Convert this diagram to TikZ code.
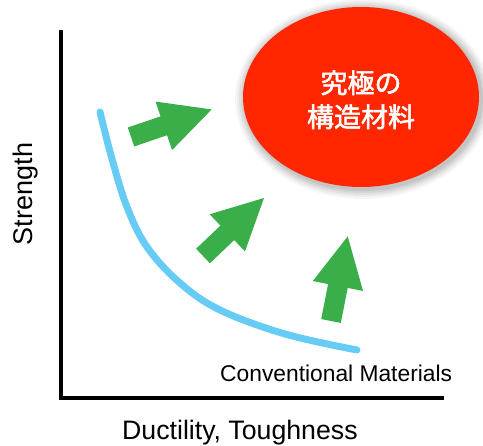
\documentclass[tikz,border=0pt]{standalone}
\usepackage{fontspec}
\setmainfont{Liberation Sans}
\newfontfamily\cjkfont[FakeBold=2]{Noto Sans CJK JP}
\usetikzlibrary{arrows.meta}
\definecolor{goalred}{RGB}{255,38,0}
\definecolor{arrgreen}{RGB}{58,174,72}
\definecolor{curveblue}{RGB}{102,204,245}
\tikzset{
  axisline/.style={line width=4pt, line cap=rect},
  bigarrow/.style={arrgreen, line width=20pt, -{Triangle[length=52pt,width=47pt]}},
  curveline/.style={curveblue, line width=7pt, line cap=round},
  lbl/.style={inner sep=0pt, font=\fontsize{#1}{#1}\selectfont},
  cjklbl/.style={inner sep=0pt, text=white, font=\cjkfont\fontsize{27}{27}\selectfont}
}
\begin{document}
\begin{tikzpicture}[x=1pt,y=-1pt]
\useasboundingbox (0,0) rectangle (483,446);
% axes
\coordinate (top) at (61,32);
\coordinate (origin) at (61,398);
\coordinate (right) at (442,398);
\draw[axisline] (top) -- (origin) -- (right);
% goal ellipse with soft shadow
\foreach \r/\o in {10/0.03,8/0.04,6/0.05,4/0.06,2/0.07}{
  \fill[black, opacity=\o] (363,99) ellipse ({118+\r} and {90+\r});
}
\fill[goalred] (361,97) ellipse (118 and 90);
\node[cjklbl, anchor=base] (g1) at (361,93) {究極の};
\node[cjklbl, anchor=base] (g2) at (361,127) {構造材料};
% conventional curve
\draw[curveline] plot[smooth, tension=0.6] coordinates
  {(100,112) (112,159) (127,207) (147,247) (180,283) (220,310) (285,334) (357,350)};
% arrows
\coordinate (a1s) at (131,137); \coordinate (a1e) at (213,109);
\coordinate (a2s) at (203,256); \coordinate (a2e) at (265,197);
\coordinate (a3s) at (331,321); \coordinate (a3e) at (348,235);
\draw[bigarrow] (a1s) -- (a1e);
\draw[bigarrow] (a2s) -- (a2e);
\draw[bigarrow] (a3s) -- (a3e);
% labels
\node[lbl=22.8, anchor=base west] (conv) at (220,382) {Conventional Materials};
\node[lbl=26.7, anchor=base west] (xlab) at (122,440) {Ductility, Toughness};
\node[lbl=27, anchor=base, rotate=90] (ylab) at (32,194) {Strength};
\end{tikzpicture}
\end{document}
